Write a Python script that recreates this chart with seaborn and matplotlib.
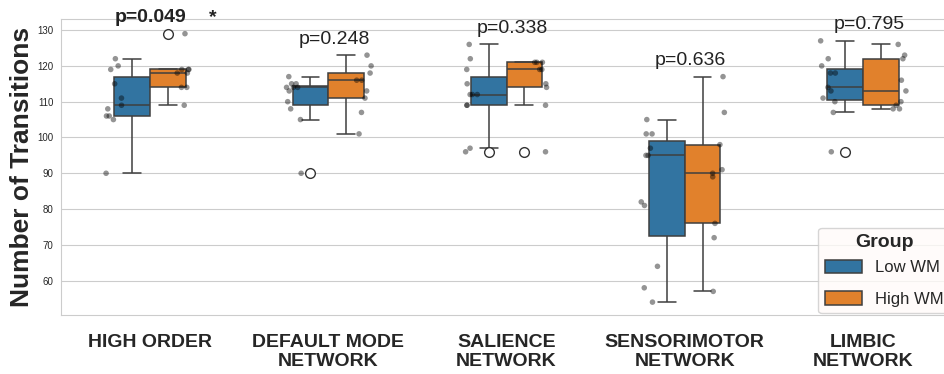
import numpy as np
import pandas as pd
import seaborn as sns
import matplotlib.pyplot as plt

networks = ["HIGH ORDER", "DEFAULT MODE\nNETWORK", "SALIENCE\nNETWORK",
            "SENSORIMOTOR\nNETWORK", "LIMBIC\nNETWORK"]
groups = ["Low WM", "High WM"]

low_high_order = [122, 120, 119, 115, 111, 109, 108, 106, 106, 105, 90]
high_high_order = [129, 119, 119, 119, 118, 118, 114, 114, 109]
low_dmn = [117, 115, 115, 114, 114, 114, 113, 110, 108, 105, 90]
high_dmn = [123, 120, 118, 116, 116, 113, 111, 107, 101]
low_sal = [126, 122, 119, 115, 112, 112, 112, 109, 109, 97, 96]
high_sal = [121, 121, 121, 119, 119, 115, 114, 109, 96]
low_sen = [105, 101, 101, 97, 95, 95, 82, 81, 64, 58, 54]
high_sen = [117, 107, 98, 91, 90, 89, 76, 72, 57]
low_lim = [127, 122, 120, 118, 118, 114, 113, 111, 110, 107, 96]
high_lim = [126, 123, 122, 116, 113, 110, 109, 108, 108]

p_values = ["p=0.049", "p=0.248", "p=0.338", "p=0.636", "p=0.795"]
significant = [True, False, False, False, False]

series = {
    networks[0]: (low_high_order, high_high_order),
    networks[1]: (low_dmn, high_dmn),
    networks[2]: (low_sal, high_sal),
    networks[3]: (low_sen, high_sen),
    networks[4]: (low_lim, high_lim),
}
rows = []
for net, (lo, hi) in series.items():
    for v in lo:
        rows.append((net, groups[0], v))
    for v in hi:
        rows.append((net, groups[1], v))
df = pd.DataFrame(rows, columns=["Network", "Group", "Transitions"])

sns.set_style("whitegrid")
plt.rcParams['font.family'] = ['Liberation Sans', 'DejaVu Sans']

np.random.seed(3)
fig = plt.figure(figsize=(9.44, 3.74), dpi=100)
ax = fig.add_axes([61 / 944, 1 - 315 / 374, (952 - 61) / 944, (315 - 19) / 374])

sns.boxplot(data=df, x="Network", y="Transitions", hue="Group", order=networks,
            hue_order=groups, width=0.4, linewidth=1.1, ax=ax,
            flierprops=dict(marker='o', markerfacecolor='white',
                            markeredgecolor='#333333', markersize=7))
sns.stripplot(data=df, x="Network", y="Transitions", hue="Group", order=networks,
              hue_order=groups, dodge=True, palette=['black', 'black'], alpha=0.42,
              size=4, jitter=True, legend=False, ax=ax)

ax.set_ylim(50.4, 133.1)
ax.set_xlim(-0.5, 4.5)
ax.set_yticks([60, 70, 80, 90, 100, 110, 120, 130])
ax.tick_params(axis='y', labelsize=7, pad=2)
ax.tick_params(axis='x', labelsize=14, pad=10)
for t in ax.get_xticklabels():
    t.set_fontweight('bold')
ax.set_xlabel("")
ax.set_ylabel("Number of Transitions", fontsize=19, fontweight='bold', labelpad=2)

for i, net in enumerate(networks):
    lo, hi = series[net]
    top = max(max(lo), max(hi)) + 3.2
    if significant[i]:
        ax.text(i, top, p_values[i], ha='center', va='baseline', fontsize=14,
                fontweight='bold', color='#222222', clip_on=False)
        ax.text(i + 0.35, top, "*", ha='center', va='baseline', fontsize=14,
                fontweight='bold', color='#222222', clip_on=False)
    else:
        ax.text(i + 0.033, top, p_values[i], ha='center', va='baseline', fontsize=14,
                color='#222222', clip_on=False)

old = ax.get_legend()
handles = old.legend_handles
old.remove()
leg = ax.legend(handles, groups, title="Group", loc='lower right', fontsize=12,
                title_fontproperties={'weight': 'bold', 'size': 14},
                borderaxespad=0.1, handlelength=2.2, handleheight=0.9,
                labelspacing=0.95, facecolor='#fffbf9')
leg._legend_box.sep = 6

fig.savefig("out.png", dpi=100)
